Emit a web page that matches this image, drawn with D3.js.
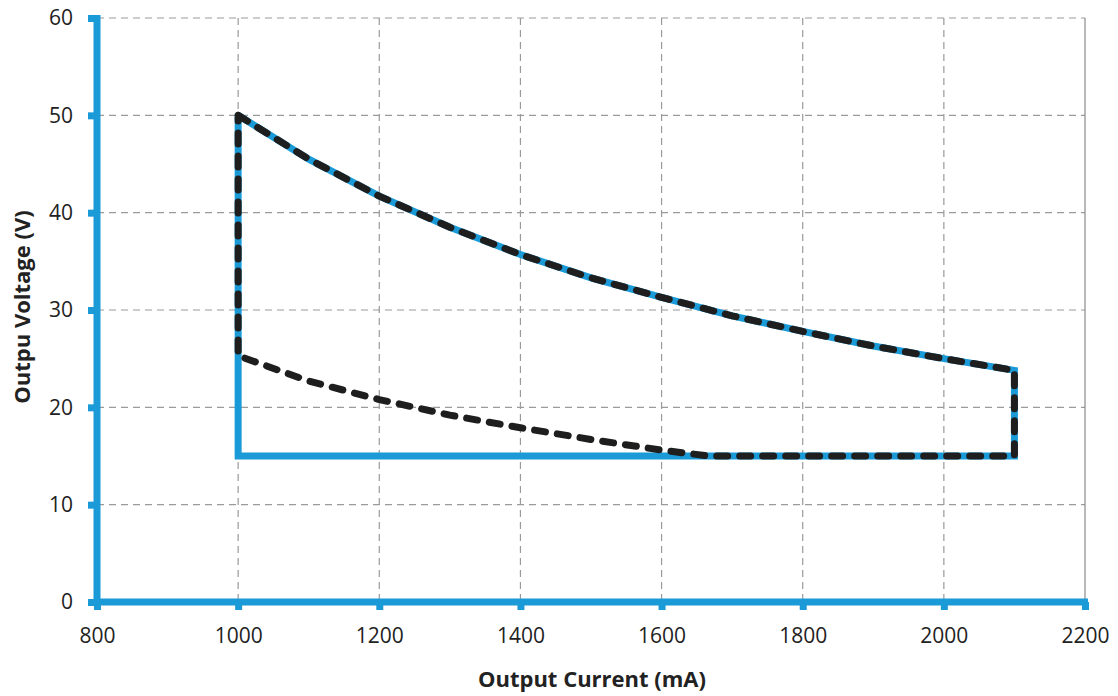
<!DOCTYPE html>
<html>
<head>
<meta charset="utf-8">
<script src="https://cdn.jsdelivr.net/npm/d3@7"></script>
<style>
  body { margin: 0; background: #fff; }
  text { font-family: "Open Sans", "Liberation Sans", sans-serif; fill: #222; }
</style>
</head>
<body>
<div id="chart"></div>
<script>
// chart values
var xTicks = [800, 1000, 1200, 1400, 1600, 1800, 2000, 2200];
var yTicks = [0, 10, 20, 30, 40, 50, 60];

// upper bound (constant power) current / voltage
var upperI = [1000, 1100, 1200, 1300, 1400, 1500, 1600, 1700, 1800, 1900, 2000, 2100];
var upperV = [50, 45.5, 41.7, 38.5, 35.7, 33.3, 31.3, 29.4, 27.8, 26.3, 25.0, 23.8];

// lower bound curve then flat at 15 V
var lowerI = [1000, 1100, 1200, 1300, 1400, 1500, 1600, 1667, 2100];
var lowerV = [25.3, 22.7, 20.8, 19.2, 17.9, 16.7, 15.6, 15, 15];

// blue operating area corners
var areaI = [1000, 1000, 2100, 2100];
var areaV = [50, 15, 15, 23.8];

var svgWidth = 1118;
var svgHeight = 696;
var margin = { top: 18, right: 33, bottom: 94, left: 97 };
var width = svgWidth - margin.left - margin.right;
var height = svgHeight - margin.top - margin.bottom;

var svg = d3.select("#chart").append("svg")
  .attr("width", svgWidth)
  .attr("height", svgHeight);

var chartGroup = svg.append("g")
  .attr("transform", `translate(${margin.left}, ${margin.top})`);

var x = d3.scaleLinear().domain([800, 2200]).range([0, width]);
var y = d3.scaleLinear().domain([0, 60]).range([height, 0]);

var blue = "#1b9ad8";

// gridlines
chartGroup.selectAll(".vgrid")
  .data(xTicks.filter(d => d > 800 && d < 2200))
  .enter().append("line")
  .attr("x1", d => x(d)).attr("x2", d => x(d))
  .attr("y1", 0).attr("y2", height)
  .attr("stroke", "#9a9a9a").attr("stroke-width", 1.2)
  .attr("stroke-dasharray", "7,5");

chartGroup.selectAll(".hgrid")
  .data(yTicks.filter(d => d > 0))
  .enter().append("line")
  .attr("x1", 0).attr("x2", width)
  .attr("y1", d => y(d)).attr("y2", d => y(d))
  .attr("stroke", "#9a9a9a").attr("stroke-width", 1.2)
  .attr("stroke-dasharray", "7,5");

// right border
chartGroup.append("line")
  .attr("x1", x(2200)).attr("x2", x(2200))
  .attr("y1", 0).attr("y2", height)
  .attr("stroke", "#8a8a8a").attr("stroke-width", 1.2);

// blue area outline
var line = d3.line().x(d => x(d[0])).y(d => y(d[1]));

var areaPts = areaI.map((d, i) => [d, areaV[i]]);
var upperPts = upperI.map((d, i) => [d, upperV[i]]).reverse();
chartGroup.append("path")
  .attr("d", line(areaPts.concat(upperPts)))
  .attr("fill", "none")
  .attr("stroke", blue)
  .attr("stroke-width", 7)
  .attr("stroke-linejoin", "miter");

// black dashed boundary
var dashPts = upperI.map((d, i) => [d, upperV[i]])
  .concat(lowerI.map((d, i) => [d, lowerV[i]]).reverse());
dashPts.push([1000, 50]);
chartGroup.append("path")
  .attr("d", line(dashPts))
  .attr("fill", "none")
  .attr("stroke", "#1e1e1e")
  .attr("stroke-width", 7)
  .attr("stroke-linecap", "round")
  .attr("stroke-linejoin", "round")
  .attr("stroke-dasharray", "11,12");

// axes
var bottomAxis = d3.axisBottom(x).tickValues(xTicks).tickFormat(d3.format("d"))
  .tickSize(8).tickPadding(18);
var leftAxis = d3.axisLeft(y).tickValues(yTicks).tickFormat(d3.format("d"))
  .tickSize(9).tickPadding(15);

var xAxis = chartGroup.append("g")
  .attr("transform", `translate(0, ${height})`)
  .call(bottomAxis);
var yAxis = chartGroup.append("g").call(leftAxis);

[xAxis, yAxis].forEach(function(g) {
  g.select(".domain").attr("stroke", blue).attr("stroke-width", 7);
  g.selectAll(".tick line").attr("stroke", blue).attr("stroke-width", 7);
  g.selectAll(".tick text").attr("font-size", 21).attr("fill", "#222");
});
yAxis.select(".domain").attr("d", `M0,${height + 4}V-3`);
xAxis.select(".domain").attr("d", `M-3,0H${width + 3}`);

// axis labels
svg.append("text")
  .attr("x", 592)
  .attr("y", 687)
  .attr("text-anchor", "middle")
  .attr("font-size", 22)
  .attr("font-weight", "bold")
  .text("Output Current (mA)");

svg.append("text")
  .attr("transform", "rotate(-90)")
  .attr("x", -307)
  .attr("y", 30)
  .attr("text-anchor", "middle")
  .attr("font-size", 22)
  .attr("font-weight", "bold")
  .text("Outpu Voltage (V)");
</script>
</body>
</html>
